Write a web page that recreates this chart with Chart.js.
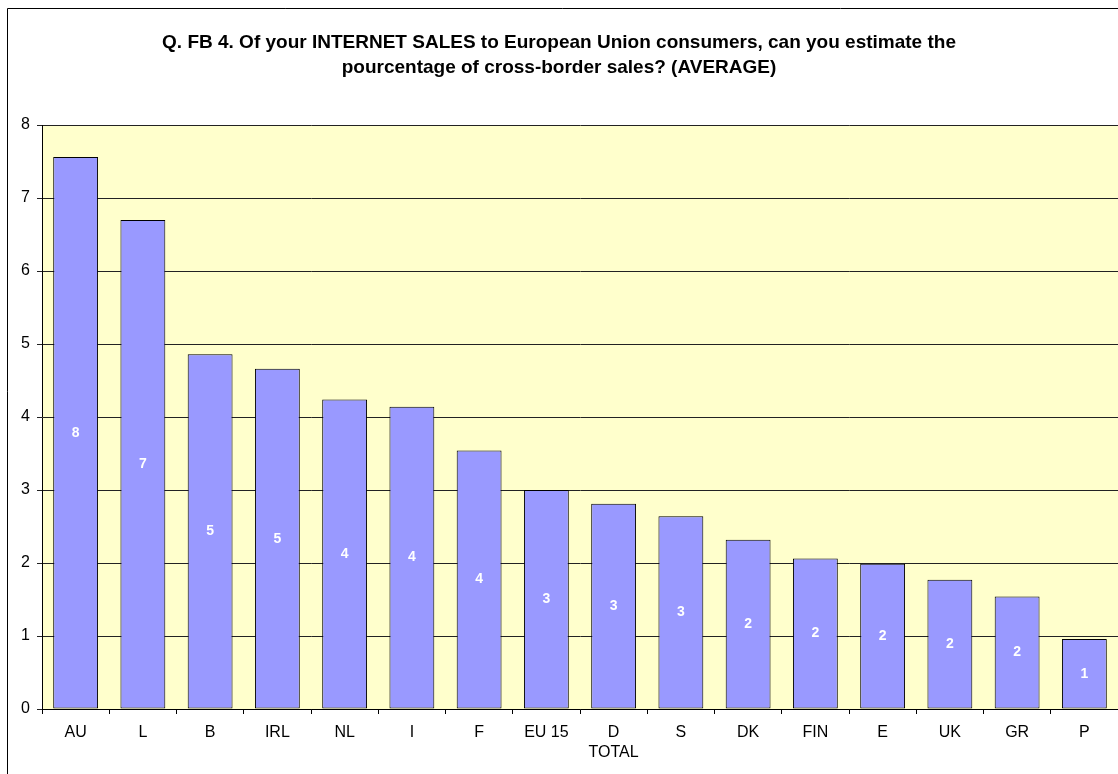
<!DOCTYPE html>
<html>
<head>
<meta charset="utf-8">
<script src="https://cdn.jsdelivr.net/npm/chart.js@4/dist/chart.umd.min.js"></script>
<style>
  html, body { margin: 0; padding: 0; background: #fff; }
  #wrap { position: relative; width: 1118px; height: 774px; }
</style>
</head>
<body>
<div id="wrap"><canvas id="c" width="1118" height="774"></canvas></div>
<script>
const categories = ['AU', 'L', 'B', 'IRL', 'NL', 'I', 'F', 'EU 15', ['D', 'TOTAL'], 'S', 'DK', 'FIN', 'E', 'UK', 'GR', 'P'];
const averages = [7.56, 6.70, 4.86, 4.66, 4.24, 4.14, 3.54, 3.00, 2.81, 2.64, 2.32, 2.06, 1.99, 1.77, 1.54, 0.96];
const yTicks = [0, 1, 2, 3, 4, 5, 6, 7, 8];
const titleLines = [
  'Q. FB 4. Of your INTERNET SALES to European Union consumers, can you estimate the',
  'pourcentage of cross-border sales? (AVERAGE)'
];

const FONT = '"Liberation Sans", Arial, sans-serif';

const framePlugin = {
  id: 'frame',
  beforeDraw(chart) {
    const ctx = chart.ctx;
    const a = chart.chartArea;
    ctx.save();
    ctx.fillStyle = '#FFFFCC';
    ctx.fillRect(a.left, a.top, a.right - a.left, a.bottom - a.top);
    ctx.strokeStyle = '#000';
    ctx.lineWidth = 1;
    ctx.beginPath();
    ctx.moveTo(7.5, chart.height);
    ctx.lineTo(7.5, 8.5);
    ctx.lineTo(chart.width, 8.5);
    ctx.stroke();
    ctx.restore();
  }
};

const valueLabels = {
  id: 'valueLabels',
  afterDatasetsDraw(chart) {
    const ctx = chart.ctx;
    const meta = chart.getDatasetMeta(0);
    ctx.save();
    ctx.fillStyle = '#fff';
    ctx.font = 'bold 14px ' + FONT;
    ctx.textAlign = 'center';
    ctx.textBaseline = 'middle';
    meta.data.forEach((bar, i) => {
      const v = chart.data.datasets[0].data[i];
      const y = (bar.y + bar.base) / 2;
      ctx.fillText(String(Math.round(v)), bar.x, y);
    });
    ctx.restore();
  }
};

new Chart(document.getElementById('c'), {
  type: 'bar',
  data: {
    labels: categories,
    datasets: [{
      data: averages,
      backgroundColor: '#9999FF',
      borderColor: '#000',
      borderWidth: 1,
      borderSkipped: false,
      barPercentage: 0.667,
      categoryPercentage: 1.0
    }]
  },
  options: {
    responsive: false,
    animation: false,
    layout: { padding: { left: 0, right: 0, top: 0, bottom: 0 } },
    plugins: {
      legend: { display: false },
      tooltip: { enabled: false },
      title: {
        display: true,
        text: titleLines,
        color: '#000',
        font: { family: FONT, size: 19, weight: 'bold', lineHeight: 25 / 19 },
        padding: { top: 30, bottom: 45 }
      }
    },
    scales: {
      x: {
        grid: { display: true, offset: true, drawOnChartArea: false, color: '#000', tickLength: 5, lineWidth: 1 },
        border: { color: '#000', width: 1 },
        ticks: {
          color: '#000',
          font: { family: FONT, size: 16, lineHeight: 1.25 },
          padding: 9,
          maxRotation: 0,
          autoSkip: false
        },
        afterFit(scale) { scale.height = 65; }
      },
      y: {
        min: 0,
        max: 8,
        afterBuildTicks(scale) { scale.ticks = yTicks.map(v => ({ value: v })); },
        grid: { color: '#222', tickLength: 5, lineWidth: 1 },
        border: { color: '#000', width: 1 },
        ticks: {
          color: '#000',
          font: { family: FONT, size: 16 },
          padding: 7
        },
        afterFit(scale) { scale.width = 42; }
      }
    }
  },
  plugins: [framePlugin, valueLabels]
});
</script>
</body>
</html>
